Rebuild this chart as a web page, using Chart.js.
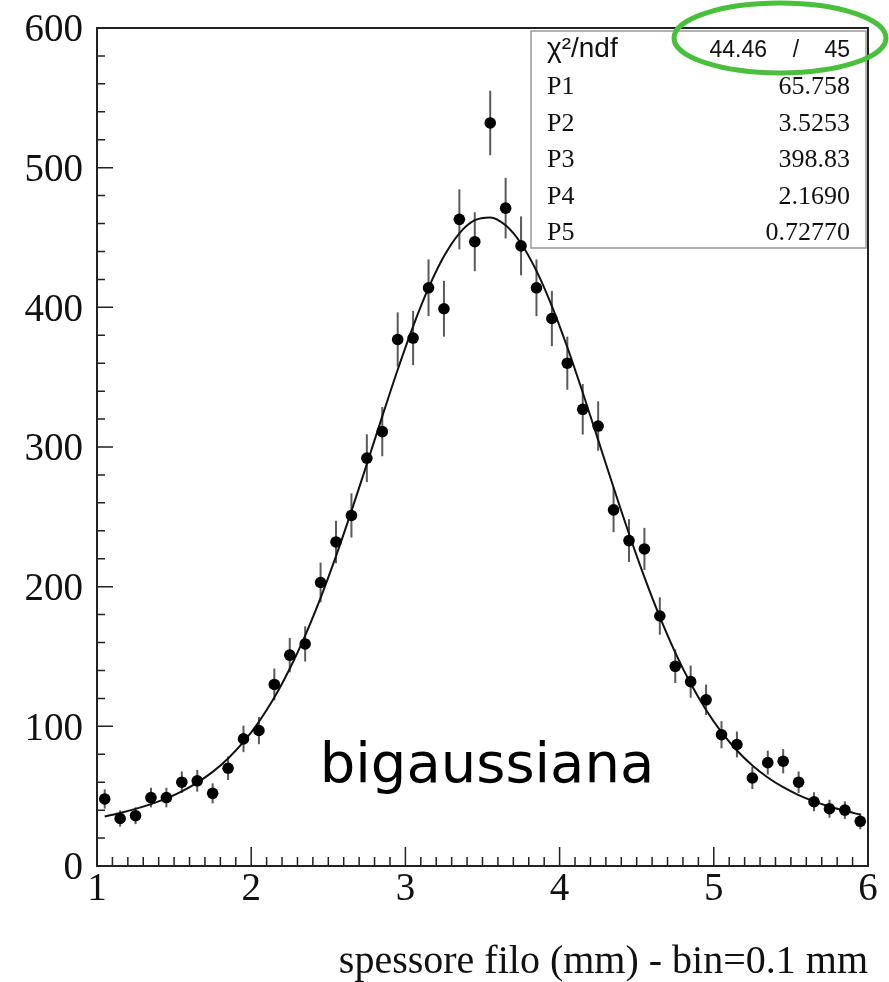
<!DOCTYPE html>
<html lang="it">
<head>
<meta charset="UTF-8">
<title>bigaussiana - spessore filo</title>
<script src="https://cdn.jsdelivr.net/npm/chart.js@4.4.1/dist/chart.umd.min.js"></script>
<style>
  body { margin: 0; background: #fff; }
  canvas { display: block; }
</style>
</head>
<body>
<canvas id="histo" width="889" height="982"></canvas>
<script>
// centri dei bin (bin = 0.1 mm)
const binCenters = [1.05, 1.15, 1.25, 1.35, 1.45, 1.55, 1.65, 1.75, 1.85, 1.95,
  2.05, 2.15, 2.25, 2.35, 2.45, 2.55, 2.65, 2.75, 2.85, 2.95,
  3.05, 3.15, 3.25, 3.35, 3.45, 3.55, 3.65, 3.75, 3.85, 3.95,
  4.05, 4.15, 4.25, 4.35, 4.45, 4.55, 4.65, 4.75, 4.85, 4.95,
  5.05, 5.15, 5.25, 5.35, 5.45, 5.55, 5.65, 5.75, 5.85, 5.95];

// conteggi
const counts = [48, 34, 36, 49, 49, 60, 61, 52, 70, 91,
  97, 130, 151, 159, 203, 232, 251, 292, 311, 377,
  378, 414, 399, 463, 447, 532, 471, 444, 414, 392,
  360, 327, 315, 255, 233, 227, 179, 143, 132, 119,
  94, 87, 63, 74, 75, 60, 46, 41, 40, 32];

// barre d'errore (mezza lunghezza)
const errors = [6.9, 5.8, 6.0, 7.0, 7.0, 7.7, 7.8, 7.2, 8.4, 9.5,
  9.8, 11.4, 12.3, 12.6, 14.2, 15.2, 15.8, 17.1, 17.6, 19.4,
  19.4, 20.3, 20.0, 21.5, 21.1, 23.1, 21.7, 21.1, 20.3, 19.8,
  19.0, 18.1, 17.7, 16.0, 15.3, 15.1, 13.4, 12.0, 11.5, 10.9,
  9.7, 9.3, 7.9, 8.6, 8.7, 7.7, 6.8, 6.4, 6.3, 5.7];

// curva del fit (valori ai centri dei bin)
const fitValues = [35.5, 38.0, 40.9, 44.3, 48.4, 53.5, 59.7, 67.4, 77.0, 88.8,
  103.3, 120.6, 141.2, 165.0, 192.0, 221.9, 254.1, 287.8, 321.9, 355.3,
  386.4, 413.9, 436.5, 453.0, 462.4, 464.4, 458.7, 445.7, 426.1, 400.9,
  371.4, 339.0, 305.1, 271.0, 237.9, 206.8, 178.3, 152.8, 130.6, 111.7,
  95.8, 82.7, 72.0, 63.4, 56.4, 50.8, 46.3, 42.6, 39.5, 36.8];

const xTicks = [1, 2, 3, 4, 5, 6];
const yTicks = [0, 100, 200, 300, 400, 500, 600];

const statLabels = ['P1', 'P2', 'P3', 'P4', 'P5'];
const statValues = ['65.758', '3.5253', '398.83', '2.1690', '0.72770'];
const chiValue = '44.46';
const ndfValue = '45';

const serif = '"Liberation Serif", "Times New Roman", serif';
const sans = '"Liberation Sans", Arial, sans-serif';

// barre d'errore verticali, disegnate sotto i punti
const errorBars = {
  id: 'errorBars',
  beforeDatasetsDraw(chart) {
    const { ctx, scales: { x, y } } = chart;
    ctx.save();
    ctx.strokeStyle = '#5a5a5a';
    ctx.lineWidth = 2;
    binCenters.forEach((c, i) => {
      const px = x.getPixelForValue(c);
      ctx.beginPath();
      ctx.moveTo(px, y.getPixelForValue(counts[i] - errors[i]));
      ctx.lineTo(px, y.getPixelForValue(counts[i] + errors[i]));
      ctx.stroke();
    });
    ctx.restore();
  }
};

// cornice e tacche interne stile ROOT
const frameTicks = {
  id: 'frameTicks',
  afterDatasetsDraw(chart) {
    const { ctx, chartArea: a, scales: { x, y } } = chart;
    ctx.save();
    ctx.strokeStyle = '#222';
    ctx.lineWidth = 2;
    ctx.strokeRect(a.left, a.top, a.right - a.left, a.bottom - a.top);
    ctx.lineWidth = 1.5;
    ctx.beginPath();
    for (let i = 0; i <= 50; i++) {
      const px = x.getPixelForValue(1 + i * 0.1);
      const len = i % 10 === 0 ? 19 : 9;
      ctx.moveTo(px, a.bottom);
      ctx.lineTo(px, a.bottom - len);
    }
    for (let i = 0; i <= 30; i++) {
      const py = y.getPixelForValue(i * 20);
      const len = i % 5 === 0 ? 16 : 8;
      ctx.moveTo(a.left, py);
      ctx.lineTo(a.left + len, py);
    }
    ctx.stroke();
    ctx.restore();
  }
};

// riquadro statistiche, scritta e ellisse verde
const statBox = {
  id: 'statBox',
  afterDraw(chart) {
    const { ctx, chartArea: a } = chart;
    const left = a.right - 337, top = a.top + 3, bottom = a.top + 220;
    ctx.save();
    ctx.fillStyle = '#fff';
    ctx.fillRect(left, top, a.right - 2 - left, bottom - top);
    ctx.strokeStyle = '#999';
    ctx.lineWidth = 1.5;
    ctx.strokeRect(left, top, a.right - 2 - left, bottom - top);

    ctx.fillStyle = '#111';
    ctx.textBaseline = 'alphabetic';
    // riga chi2/ndf
    ctx.textAlign = 'left';
    ctx.font = '28px ' + sans;
    ctx.fillText('χ²/ndf', left + 16, a.top + 29);
    ctx.font = '23px ' + sans;
    ctx.textAlign = 'right';
    ctx.fillText(chiValue, a.right - 101, a.top + 29);
    ctx.textAlign = 'center';
    ctx.fillText('/', a.right - 72, a.top + 29);
    ctx.textAlign = 'right';
    ctx.fillText(ndfValue, a.right - 18, a.top + 29);

    ctx.font = '26px ' + serif;
    statLabels.forEach((lab, i) => {
      const base = a.top + 66 + i * 36.6;
      ctx.textAlign = 'left';
      ctx.fillText(lab, left + 16, base);
      ctx.textAlign = 'right';
      ctx.fillText(statValues[i], a.right - 18, base);
    });

    // ellisse verde intorno al chi2
    ctx.strokeStyle = '#48c03c';
    ctx.lineWidth = 5;
    ctx.beginPath();
    ctx.ellipse(a.right - 88, a.top + 10, 106, 35, 0, 0, Math.PI * 2);
    ctx.stroke();

    // scritta
    ctx.fillStyle = '#000';
    ctx.font = '56px "Comic Sans MS", "DejaVu Sans", sans-serif';
    ctx.textAlign = 'center';
    ctx.fillText('bigaussiana', a.left + 390, a.bottom - 84);
    ctx.restore();
  }
};

new Chart(document.getElementById('histo'), {
  type: 'scatter',
  data: {
    datasets: [
      {
        label: 'fit',
        data: binCenters.map((c, i) => ({ x: c, y: fitValues[i] })),
        showLine: true,
        borderColor: '#111',
        borderWidth: 2,
        pointRadius: 0,
        cubicInterpolationMode: 'monotone',
        order: 2
      },
      {
        label: 'dati',
        data: binCenters.map((c, i) => ({ x: c, y: counts[i] })),
        showLine: false,
        backgroundColor: '#000',
        borderWidth: 0,
        pointRadius: 5.8,
        order: 1
      }
    ]
  },
  options: {
    responsive: false,
    animation: false,
    layout: { padding: { top: 28, right: 21, left: 0, bottom: 0 } },
    plugins: { legend: { display: false }, tooltip: { enabled: false } },
    scales: {
      x: {
        type: 'linear',
        min: 1,
        max: 6,
        afterBuildTicks: s => { s.ticks = xTicks.map(v => ({ value: v })); },
        afterFit: s => { s.height = 116; s.paddingLeft = 0; s.paddingRight = 0; },
        grid: { display: false, drawTicks: false },
        border: { display: false },
        ticks: { color: '#111', font: { family: serif, size: 39 }, padding: 0, maxRotation: 0 },
        title: {
          display: true,
          text: 'spessore filo (mm) - bin=0.1 mm',
          align: 'end',
          color: '#111',
          font: { family: serif, size: 40, lineHeight: 1 },
          padding: { top: 0, bottom: 0 }
        }
      },
      y: {
        min: 0,
        max: 600,
        afterBuildTicks: s => { s.ticks = yTicks.map(v => ({ value: v })); },
        afterFit: s => { s.width = 97; s.paddingTop = 0; s.paddingBottom = 0; },
        grid: { display: false, drawTicks: false },
        border: { display: false },
        ticks: { color: '#111', font: { family: serif, size: 39 }, padding: 14, labelOffset: 3 }
      }
    }
  },
  plugins: [errorBars, frameTicks, statBox]
});
</script>
</body>
</html>
